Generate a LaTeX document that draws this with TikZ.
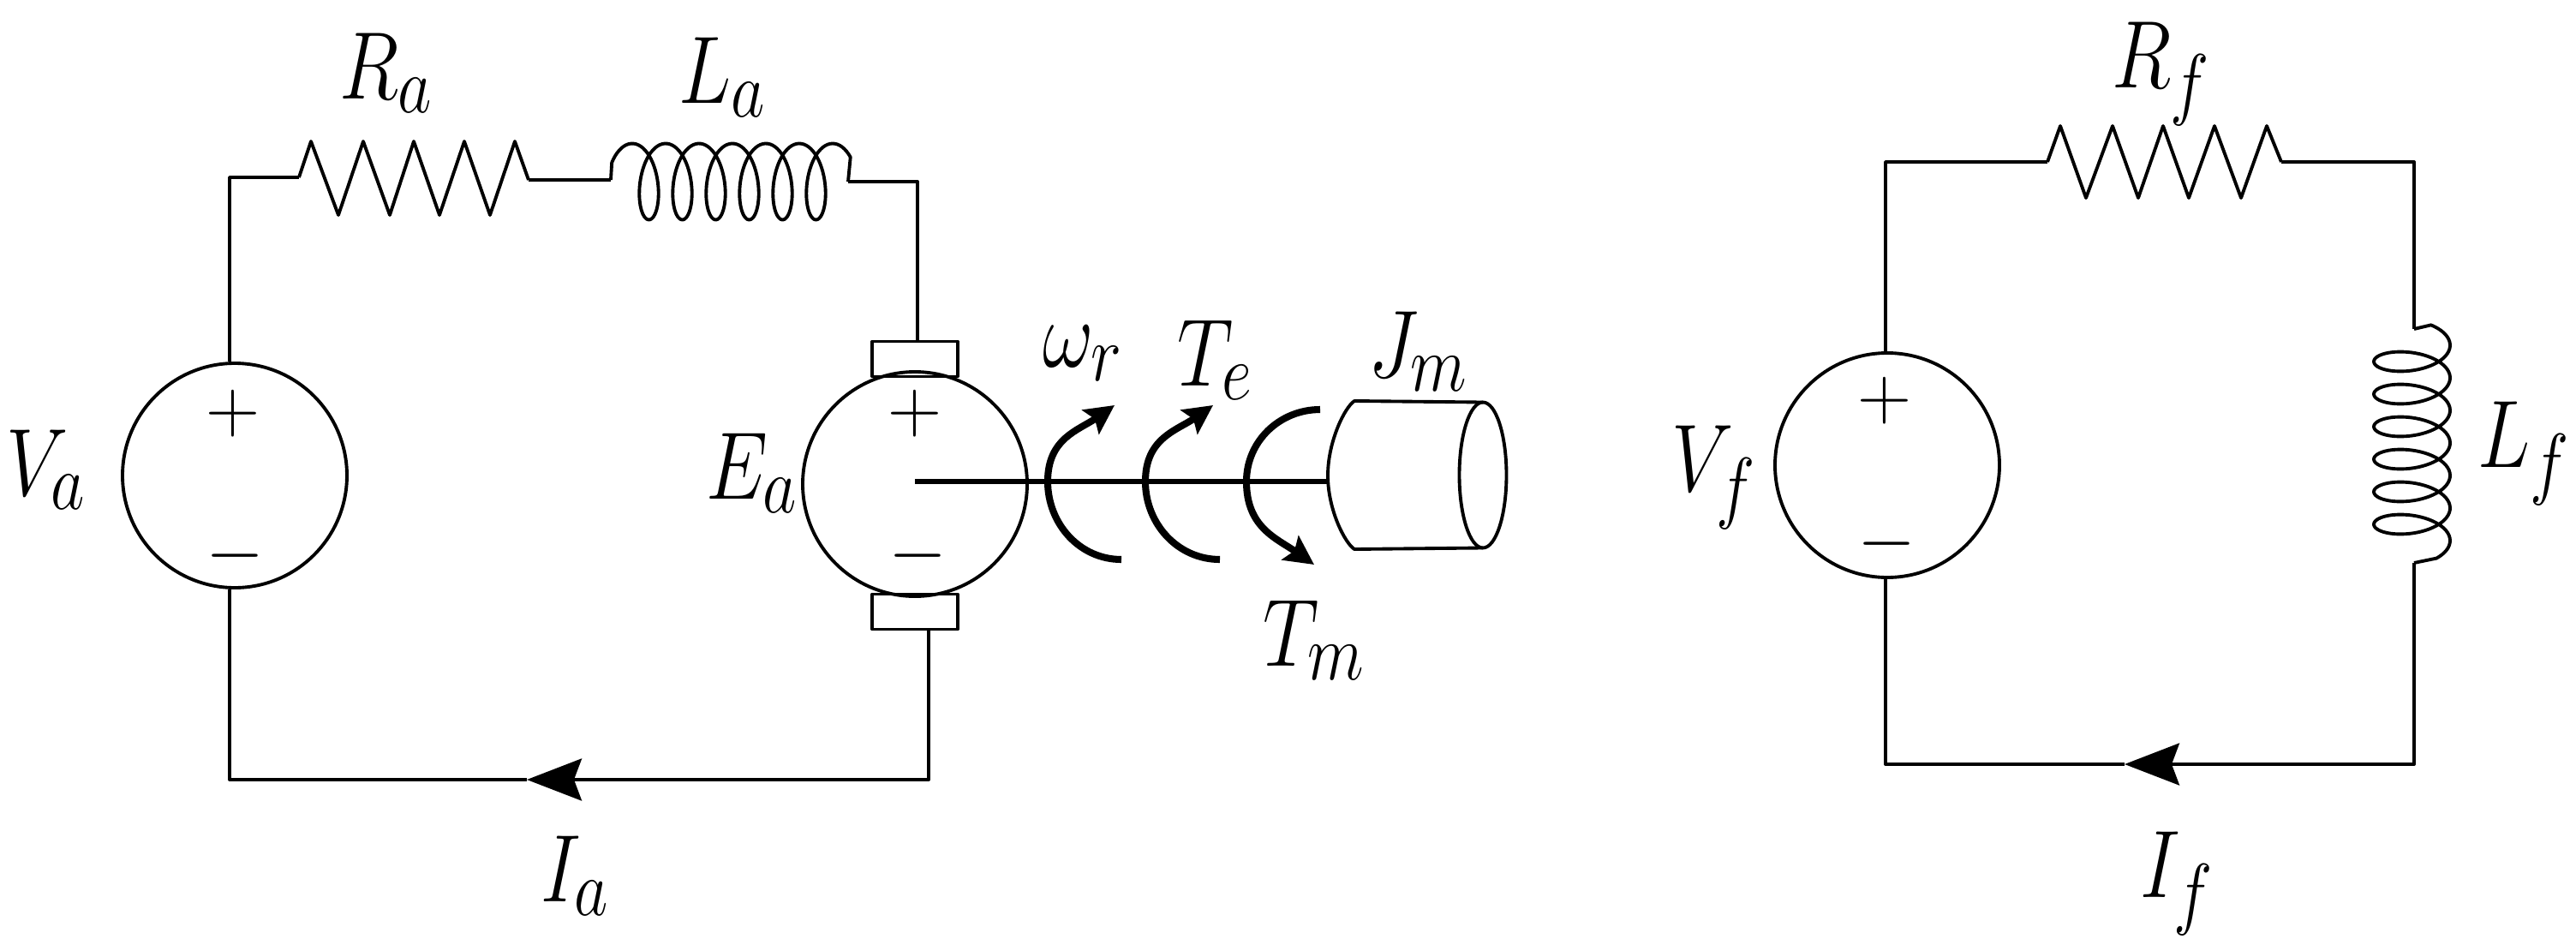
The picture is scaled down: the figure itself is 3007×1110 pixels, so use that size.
\documentclass[tikz,border=0pt]{standalone}
\usepackage{amsmath,amssymb}
\usetikzlibrary{arrows.meta,
	shapes.geometric
}
\tikzset{Machine/.style = {
		x=0.1mm, y=-0.1mm, line width=1.1pt, line join=round,
		source/.style = {circle, draw, inner sep=0pt, minimum size=26.2mm},
		brush/.style = {rectangle, draw, inner sep=0pt, minimum width=10mm, minimum height=4.1mm},
		sym/.style = {anchor=base west, inner sep=0pt, xscale=1.05, yscale=1.28, font=\Huge},
		sign/.style = {inner sep=0pt, font=\Huge},
		coilrun/.style = {domain=-60:2210, samples=360},
		current/.style = {-{Stealth[length=6.4mm, width=4.9mm, inset=.9mm]}},
		torque/.style = {line width=2.3pt, -{Stealth[length=3.4mm, width=3.4mm, inset=.6mm]}}
	}% end of Machine style
}
\begin{document}
\begin{tikzpicture}[Machine]
  \useasboundingbox (0,0) rectangle (3007,1110);

  \begin{scope} % armature
   \node[source] (Va) at (274,555) {};
   \node[source] (Ea) at (1068,565) {};
   \node[brush] (BrT) at (1068,419) {};
   \node[brush] (BrB) at (1068,714) {};
   \coordinate (VaT) at (268,207);
   \coordinate (VaB) at (268,910);
   \coordinate (Ra1) at (349,207);
   \coordinate (Ra2) at (617,210);
   \coordinate (La1) at (713,210);
   \coordinate (La2) at (990,212);
   \coordinate (EaT) at (1071,212);
   \coordinate (EaB) at (1084,910);
   \coordinate (IaTip) at (615,910);
   \draw (Va.north -| VaT) -- (VaT) -- (Ra1);
   \draw (Ra1) -- (363,165) -- (395,251) -- (424,165) -- (455,251) -- (483,165)
     -- (513,251) -- (542,165) -- (572,251) -- (601,165) -- (Ra2);
   \draw (Ra2) -- (La1);
   \draw (La1) -- plot[coilrun] ({738+\x/360*39+20*sin(\x)},{212-44.5*cos(\x)}) -- (La2);
   \draw (La2) -- (EaT) -- (BrT.north -| EaT);
   \draw[current] (BrB.south -| EaB) -- (EaB) -- (IaTip);
   \draw (IaTip) -- (VaB) -- (Va.south -| VaB);
   \node[sign] (VaP) at (272,483) {$+$};
   \node[sign] (VaM) at (275,649) {$-$};
   \node[sign] (EaP) at (1068,483) {$+$};
   \node[sign] (EaM) at (1071,649) {$-$};
   \node[sym] (RaText) at (394,115) {$R_a$};
   \node[sym] (LaText) at (790,120) {$L_a$};
   \node[sym] (VaText) at (5,578) {$V_a$};
   \node[sym] (EaText) at (822,582) {$E_a$};
   \node[sym] (IaText) at (629,1052) {$I_a$};
  \end{scope}

  \begin{scope} % shaft and load
   \node[ellipse, draw, inner sep=0pt, outer sep=0pt, minimum width=5.5mm, minimum height=17mm] (Jm) at (1731,554.5) {};
   \coordinate (JmT) at (1581,468);
   \coordinate (JmB) at (1581,641);
   \coordinate (JmL) at (1550,555);
   \coordinate (ShaftEnd) at (1550,562);
   \draw[line width=1.5pt] (Ea.center |- ShaftEnd) -- (ShaftEnd);
   \draw (Jm.north) -- (JmT) .. controls (1570,475) and (1550,515) .. (JmL)
     .. controls (1550,595) and (1570,634) .. (JmB) -- (Jm.south);
   \coordinate (Wr1) at (1309,653);
   \coordinate (Wr2) at (1223,562);
   \coordinate (Wr3) at (1301,473);
   \coordinate (Te1) at (1424,653);
   \coordinate (Te2) at (1337,562);
   \coordinate (Te3) at (1416,473);
   \coordinate (Tm1) at (1541,478);
   \coordinate (Tm2) at (1455,562);
   \coordinate (Tm3) at (1534,659);
   \draw[torque] (Wr1) to[out=180, in=-90] (Wr2) to[out=90, in=215, looseness=1.1] (Wr3);
   \draw[torque] (Te1) to[out=180, in=-90] (Te2) to[out=90, in=215, looseness=1.1] (Te3);
   \draw[torque] (Tm1) to[out=180, in=90] (Tm2) to[out=-90, in=145, looseness=1.1] (Tm3);
   \node[sym] (WrText) at (1215,428) {$\omega_r$};
   \node[sym] (TeText) at (1372,450) {$T_e$};
   \node[sym] (TmText) at (1472,777) {$T_m$};
   \node[sym] (JmText) at (1595,440) {$J_m$};
  \end{scope}

  \begin{scope} % field
   \node[source] (Vf) at (2203,543) {};
   \coordinate (VfT) at (2201,189);
   \coordinate (VfB) at (2201,892);
   \coordinate (Rf1) at (2390,189);
   \coordinate (Rf2) at (2663,189);
   \coordinate (LfR) at (2818,189);
   \coordinate (Lf1) at (2818,384);
   \coordinate (Lf2) at (2818,657);
   \coordinate (LfB) at (2818,892);
   \coordinate (IfTip) at (2480,892);
   \draw (Vf.north -| VfT) -- (VfT) -- (Rf1);
   \draw (Rf1) -- (2405,147) -- (2435,231) -- (2466,147) -- (2496,231) -- (2525,147)
     -- (2555,231) -- (2585,147) -- (2616,231) -- (2646,147) -- (Rf2);
   \draw (Rf2) -- (LfR) -- (Lf1);
   \draw (Lf1) -- plot[coilrun] ({2815.5+44.5*cos(\x)},{403+\x/360*38+20*sin(\x)}) -- (Lf2);
   \draw[current] (Lf2) -- (LfB) -- (IfTip);
   \draw (IfTip) -- (VfB) -- (Vf.south -| VfB);
   \node[sign] (VfP) at (2200,468) {$+$};
   \node[sign] (VfM) at (2202,635) {$-$};
   \node[sym] (RfText) at (2463,102) {$R_f$};
   \node[sym] (LfText) at (2890,545) {$L_f$};
   \node[sym] (VfText) at (1949,573) {$V_f$};
   \node[sym] (IfText) at (2496,1047) {$I_f$};
  \end{scope}
 \end{tikzpicture}
\end{document}
